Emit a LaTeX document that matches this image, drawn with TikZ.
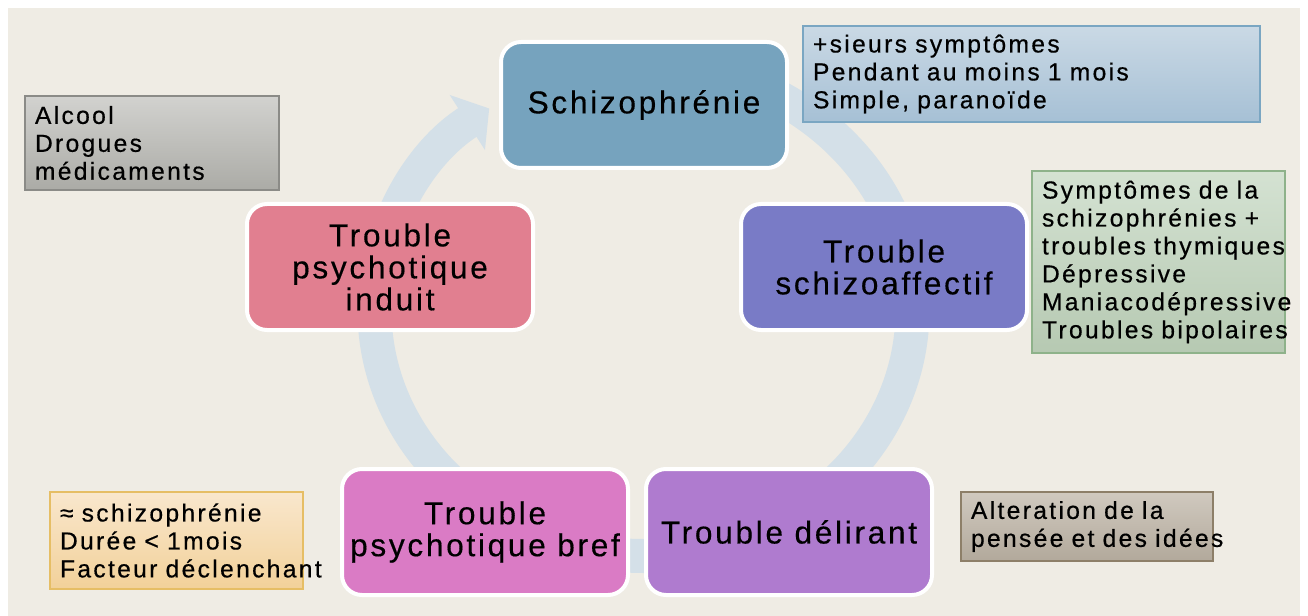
\documentclass[tikz,border=0pt]{standalone}
\usepackage{fontspec}
\setmainfont{Liberation Sans}
\newfontfamily\stagefont[LetterSpace=8.5,FakeBold=0.4]{Liberation Sans}
\newfontfamily\notefont[LetterSpace=9.5,FakeBold=0.5]{Liberation Sans}
\usetikzlibrary{arrows.meta}
\definecolor{bgc}{RGB}{239,236,228}
\definecolor{ringc}{RGB}{212,224,232}
\definecolor{schizoc}{RGB}{118,163,190}
\definecolor{affectc}{RGB}{121,123,198}
\definecolor{delirc}{RGB}{175,123,207}
\definecolor{brefc}{RGB}{218,123,197}
\definecolor{induitc}{RGB}{225,127,144}
\tikzset{
  stage/.style = {draw=white, line width=0.8mm, rounded corners=4mm,
                  minimum width=57.2mm, minimum height=25.2mm, inner sep=0.5mm,
                  align=center, font=\stagefont\fontsize{18}{18.2}\selectfont},
  note/.style  = {line width=0.3mm, inner xsep=2mm, inner ysep=0pt, align=left,
                  font=\notefont\fontsize{14}{15.9}\selectfont},
  ring/.style  = {draw=ringc, line width=6.8mm, -{Triangle[width=12.8mm,length=5.2mm]}},
}

\begin{document}
\begin{tikzpicture}[x=0.2mm, y=-0.2mm]

% canvas: one unit = one pixel of the slide, y pointing down
\useasboundingbox (0,0) rectangle (1308,616);
\fill[bgc] (8,8) rectangle (1300,616);

% cycle ring behind the stages
\draw[ring] (643.5,64) arc[start angle=-90, end angle=235, x radius=269, y radius=246];

% five stages round the cycle
\node[stage, fill=schizoc] (schizo) at (644,105) {Schizophrénie};
\node[stage, fill=affectc] (affect) at (884,267) {Trouble\\schizoaffectif};
\node[stage, fill=delirc] (delir) at (789,532) {Trouble délirant};
\node[stage, fill=brefc] (bref) at (485,532) {Trouble\\psychotique bref};
\node[stage, fill=induitc] (induit) at (390,267) {Trouble\\psychotique\\induit};

% notes beside the stages
\node[note, draw={rgb,255:red,122;green,166;blue,194},
      top color={rgb,255:red,202;green,217;blue,229}, bottom color={rgb,255:red,166;green,192;blue,213},
      text width=87.4mm, minimum height=19.2mm] (nschizo) at (1031.5,74)
  {+sieurs symptômes\\Pendant au moins 1 mois\\Simple, paranoïde};
\node[note, draw={rgb,255:red,142;green,178;blue,138},
      top color={rgb,255:red,212;green,226;blue,210}, bottom color={rgb,255:red,182;green,201;blue,178},
      text width=46.6mm, minimum height=36.4mm] (naffect) at (1158.5,262)
  {Symptômes de la\\\mbox{schizophrénies +}\\\mbox{troubles thymiques}\\Dépressive\\\mbox{Maniacodépressive}\\\mbox{Troubles bipolaires}};
\node[note, draw={rgb,255:red,139;green,139;blue,135},
      top color={rgb,255:red,210;green,210;blue,207}, bottom color={rgb,255:red,171;green,171;blue,166},
      text width=46.8mm, minimum height=18.8mm] (ninduit) at (152,143)
  {Alcool\\Drogues\\médicaments};
\node[note, draw={rgb,255:red,230;green,190;blue,101},
      top color={rgb,255:red,249;green,231;blue,205}, bottom color={rgb,255:red,242;green,209;blue,153},
      text width=46.6mm, minimum height=19.4mm] (nbref) at (176.5,540.5)
  {≈ schizophrénie\\Durée < 1mois\\\mbox{Facteur déclenchant}};
\node[note, draw={rgb,255:red,141;green,127;blue,104},
      top color={rgb,255:red,208;green,201;blue,191}, bottom color={rgb,255:red,178;green,169;blue,155},
      text width=46.4mm, minimum height=13.8mm] (ndelir) at (1087,526.5)
  {Alteration de la\\\mbox{pensée et des idées}};

\end{tikzpicture}
\end{document}
